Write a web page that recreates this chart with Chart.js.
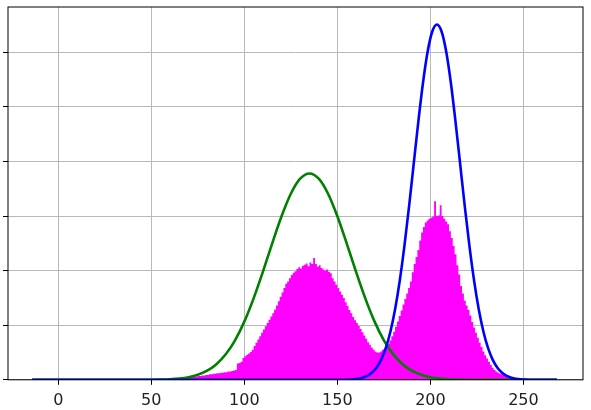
<!DOCTYPE html>
<html>
<head>
<meta charset="utf-8">
<script src="https://cdn.jsdelivr.net/npm/chart.js@4"></script>
<style>
  html, body { margin: 0; padding: 0; background: #fff; }
  #wrap { width: 591px; height: 410px; }
</style>
</head>
<body>
<div id="wrap"><canvas id="chart" width="591" height="410"></canvas></div>
<script>
// x tick labels and y grid steps (y labels are cut off in the original)
const xTicks = [0, 50, 100, 150, 200, 250];
const yTicks = [0, 1, 2, 3, 4, 5, 6];

// histogram: bins of width 1 starting at 62, heights
const binStart = 62;
const binWidth = 1;
const histHeights = [
  0.01, 0.01, 0.02, 0.02, 0.02, 0.03, 0.03, 0.04, 0.04, 0.05,
  0.05, 0.06, 0.06, 0.07, 0.07, 0.08, 0.08, 0.09, 0.09, 0.1,
  0.1, 0.11, 0.11, 0.12, 0.12, 0.13, 0.13, 0.14, 0.14, 0.15,
  0.15, 0.16, 0.17, 0.18, 0.3, 0.31, 0.33, 0.4, 0.43, 0.46,
  0.48, 0.51, 0.55, 0.62, 0.68, 0.74, 0.8, 0.86, 0.92, 0.98,
  1.04, 1.1, 1.16, 1.22, 1.29, 1.36, 1.44, 1.52, 1.6, 1.68,
  1.76, 1.8, 1.86, 1.92, 1.96, 1.99, 2.03, 2.06, 2.04, 2.09,
  2.11, 2.13, 2.08, 2.15, 2.12, 2.23, 2.12, 2.07, 2.1, 2.05,
  2.02, 2.0, 2.02, 1.98, 1.95, 1.86, 1.8, 1.74, 1.68, 1.62,
  1.56, 1.5, 1.42, 1.35, 1.28, 1.22, 1.15, 1.09, 1.04, 0.99,
  0.93, 0.87, 0.81, 0.75, 0.69, 0.64, 0.59, 0.55, 0.52, 0.5,
  0.5, 0.52, 0.55, 0.58, 0.62, 0.66, 0.72, 0.8, 0.88, 0.97,
  1.07, 1.17, 1.27, 1.38, 1.48, 1.58, 1.68, 1.8, 1.97, 2.12,
  2.25, 2.38, 2.55, 2.7, 2.8, 2.88, 2.92, 2.95, 2.97, 2.99,
  3.27, 3.0, 3.01, 3.2, 3.0, 2.95, 2.9, 2.85, 2.72, 2.6,
  2.45, 2.3, 2.1, 1.93, 1.72, 1.58, 1.45, 1.36, 1.28, 1.18,
  1.06, 0.96, 0.86, 0.77, 0.68, 0.6, 0.52, 0.45, 0.39, 0.33,
  0.27, 0.22, 0.18, 0.15, 0.13, 0.11, 0.1, 0.09, 0.07, 0.05,
  0.04, 0.03, 0.02, 0.01
];

// green curve (left component)
const greenX = [-14, 40, 45, 50, 55, 60, 65, 70, 75, 80, 85, 90, 95, 100, 105, 110, 115, 120, 125, 130,
  135, 140, 145, 150, 155, 160, 165, 170, 175, 180, 185, 190, 195, 200, 205, 210, 215, 220, 230, 268];
const greenY = [0, 0, 0.001, 0.002, 0.005, 0.011, 0.024, 0.048, 0.092, 0.166, 0.286, 0.467, 0.724, 1.066, 1.492, 1.982, 2.5, 2.996, 3.409, 3.684,
  3.78, 3.684, 3.409, 2.996, 2.5, 1.982, 1.492, 1.066, 0.724, 0.467, 0.286, 0.166, 0.092, 0.048, 0.024, 0.011, 0.005, 0.002, 0, 0];

// blue curve (right component)
const blueX = [-14, 140, 153.5, 158.5, 161, 163.5, 166, 168.5, 171, 173.5, 176, 178.5, 181, 183.5, 186, 188.5, 191, 193.5, 196, 198.5, 201,
  203.5, 206, 208.5, 211, 213.5, 216, 218.5, 221, 223.5, 226, 228.5, 231, 233.5, 236, 238.5, 241, 243.5, 246, 248.5, 253.5, 268];
const blueY = [0, 0, 0.002, 0.01, 0.02, 0.039, 0.072, 0.129, 0.221, 0.365, 0.579, 0.881, 1.288, 1.81, 2.443, 3.169, 3.949, 4.727, 5.438, 6.01, 6.381,
  6.51, 6.381, 6.01, 5.438, 4.727, 3.949, 3.169, 2.443, 1.81, 1.288, 0.881, 0.579, 0.365, 0.221, 0.129, 0.072, 0.039, 0.02, 0.01, 0.002, 0];

// outline of the histogram: each bin gives its left and right top corner
const histPoints = [{ x: binStart, y: 0 }];
histHeights.forEach((h, i) => {
  const left = binStart + i * binWidth;
  histPoints.push({ x: left, y: h }, { x: left + binWidth, y: h });
});
histPoints.push({ x: binStart + histHeights.length * binWidth, y: 0 });

const toPoints = (xs, ys) => xs.map((x, i) => ({ x: x, y: ys[i] }));

// black box around the axes, like matplotlib spines
const frame = {
  id: 'frame',
  afterDatasetsDraw(chart) {
    const { ctx, chartArea: a } = chart;
    ctx.save();
    ctx.strokeStyle = '#000';
    ctx.lineWidth = 1;
    ctx.strokeRect(a.left, a.top, a.right - a.left, a.bottom - a.top);
    ctx.restore();
  }
};

new Chart(document.getElementById('chart').getContext('2d'), {
  type: 'line',
  data: {
    datasets: [
      {
        data: toPoints(blueX, blueY),
        borderColor: '#0000ff',
        borderWidth: 2.6,
        pointRadius: 0,
        cubicInterpolationMode: 'monotone',
        fill: false
      },
      {
        data: toPoints(greenX, greenY),
        borderColor: '#008000',
        borderWidth: 2.6,
        pointRadius: 0,
        cubicInterpolationMode: 'monotone',
        fill: false
      },
      {
        data: histPoints,
        borderColor: 'rgba(255,0,255,0)',
        borderWidth: 0,
        backgroundColor: '#ff00ff',
        pointRadius: 0,
        tension: 0,
        fill: 'origin'
      }
    ]
  },
  options: {
    responsive: false,
    animation: false,
    layout: { padding: { left: 3, right: 8, top: 7, bottom: -6 } },
    plugins: { legend: { display: false }, tooltip: { enabled: false } },
    scales: {
      x: {
        type: 'linear',
        min: -27,
        max: 282,
        afterBuildTicks: (axis) => { axis.ticks = xTicks.map(v => ({ value: v })); },
        grid: { color: '#b8b8b8', lineWidth: 1, tickColor: '#000', tickLength: 5 },
        border: { display: false },
        ticks: {
          padding: 6,
          color: '#222',
          maxRotation: 0,
          font: { family: 'DejaVu Sans', size: 16 }
        }
      },
      y: {
        min: 0,
        max: 6.83,
        afterBuildTicks: (axis) => { axis.ticks = yTicks.map(v => ({ value: v })); },
        grid: { color: '#b8b8b8', lineWidth: 1, tickColor: '#000', tickLength: 5 },
        border: { display: false },
        ticks: { display: false }
      }
    }
  },
  plugins: [frame]
});
</script>
</body>
</html>
